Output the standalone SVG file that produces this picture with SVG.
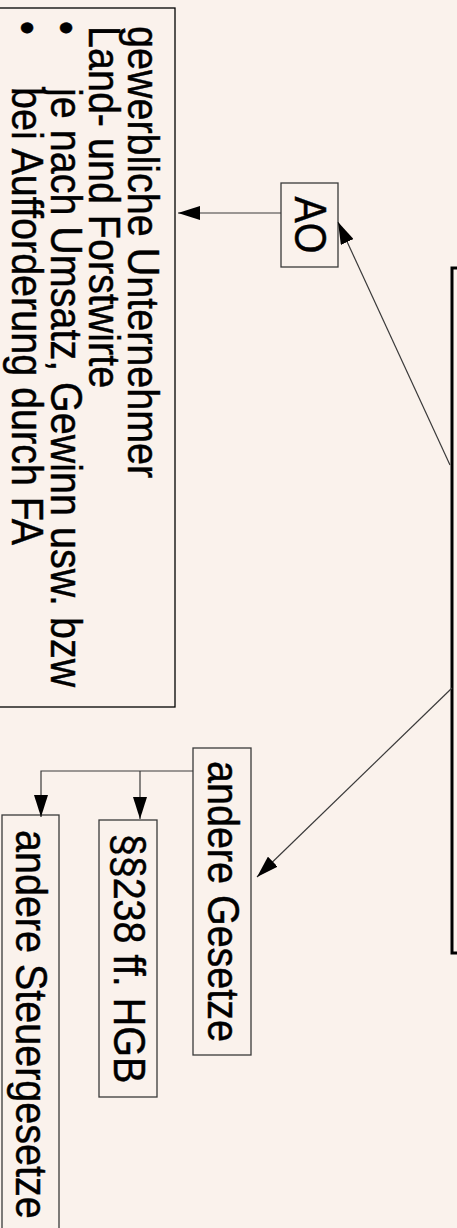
<svg xmlns="http://www.w3.org/2000/svg" width="457" height="1228" viewBox="0 0 457 1228">
<defs>
<style>
text { font-family: "Liberation Sans", Arial, sans-serif; font-size: 39.5px; fill: #000; stroke: #000; stroke-width: 0.4; }
.box { fill: none; stroke: #3a3a3a; stroke-width: 1.3; }
.conn { fill: none; stroke: #3a3a3a; stroke-width: 1.2; }
</style>
<marker id="arr" markerWidth="22" markerHeight="14" refX="22" refY="7" orient="auto" markerUnits="userSpaceOnUse">
<path d="M0,0 L22,7 L0,14 z" fill="#000"/>
</marker>
</defs>
<rect width="457" height="1228" fill="#faf2ec"/>
<g transform="translate(457,0) rotate(90)">
  <g id="main">
    <rect x="268" y="-20" width="685" height="25" fill="none" stroke="#000" stroke-width="3"/>
  </g>
  <g id="ao">
    <rect class="box" x="183" y="119" width="84" height="57"/>
    <text transform="translate(225,162) scale(1,1.1)" text-anchor="middle">AO</text>
  </g>
  <g id="info">
    <rect x="8" y="282" width="699" height="200" fill="none" stroke="#000" stroke-width="1.3"/>
    <text transform="translate(26,329.5) scale(1,1.1)">gewerbliche Unternehmer</text>
    <text transform="translate(26,368) scale(1,1.1)">Land- und Forstwirte</text>
    <text transform="translate(28,406.5) scale(1,1.1)" text-anchor="middle">•</text>
    <text transform="translate(88,406.5) scale(1,1.1)">je nach Umsatz, Gewinn usw. bzw</text>
    <text transform="translate(28,445) scale(1,1.1)" text-anchor="middle">•</text>
    <text transform="translate(87,445) scale(1,1.1)">bei Aufforderung durch FA</text>
  </g>
  <g id="andere-gesetze">
    <rect class="box" x="748" y="206" width="307" height="58"/>
    <text transform="translate(901.5,249.5) scale(1,1.1)" text-anchor="middle">andere Gesetze</text>
  </g>
  <g id="hgb">
    <rect class="box" x="820" y="300" width="277" height="58"/>
    <text transform="translate(958.5,343.5) scale(1,1.1)" text-anchor="middle">§§238 ff. HGB</text>
  </g>
  <g id="steuergesetze">
    <rect class="box" x="815" y="398" width="418" height="57"/>
    <text transform="translate(830,441) scale(1,1.1)">andere Steuergesetze</text>
  </g>
  <g id="connectors">
    <path class="conn" d="M213,176 L213,279" marker-end="url(#arr)"/>
    <path class="conn" d="M465,7 L222,119" marker-end="url(#arr)"/>
    <path class="conn" d="M688,5 L877,200" marker-end="url(#arr)"/>
    <path class="conn" d="M771,264 L771,416 L817,416" marker-end="url(#arr)"/>
    <path class="conn" d="M771,317 L819,317" marker-end="url(#arr)"/>
  </g>
</g>
</svg>
